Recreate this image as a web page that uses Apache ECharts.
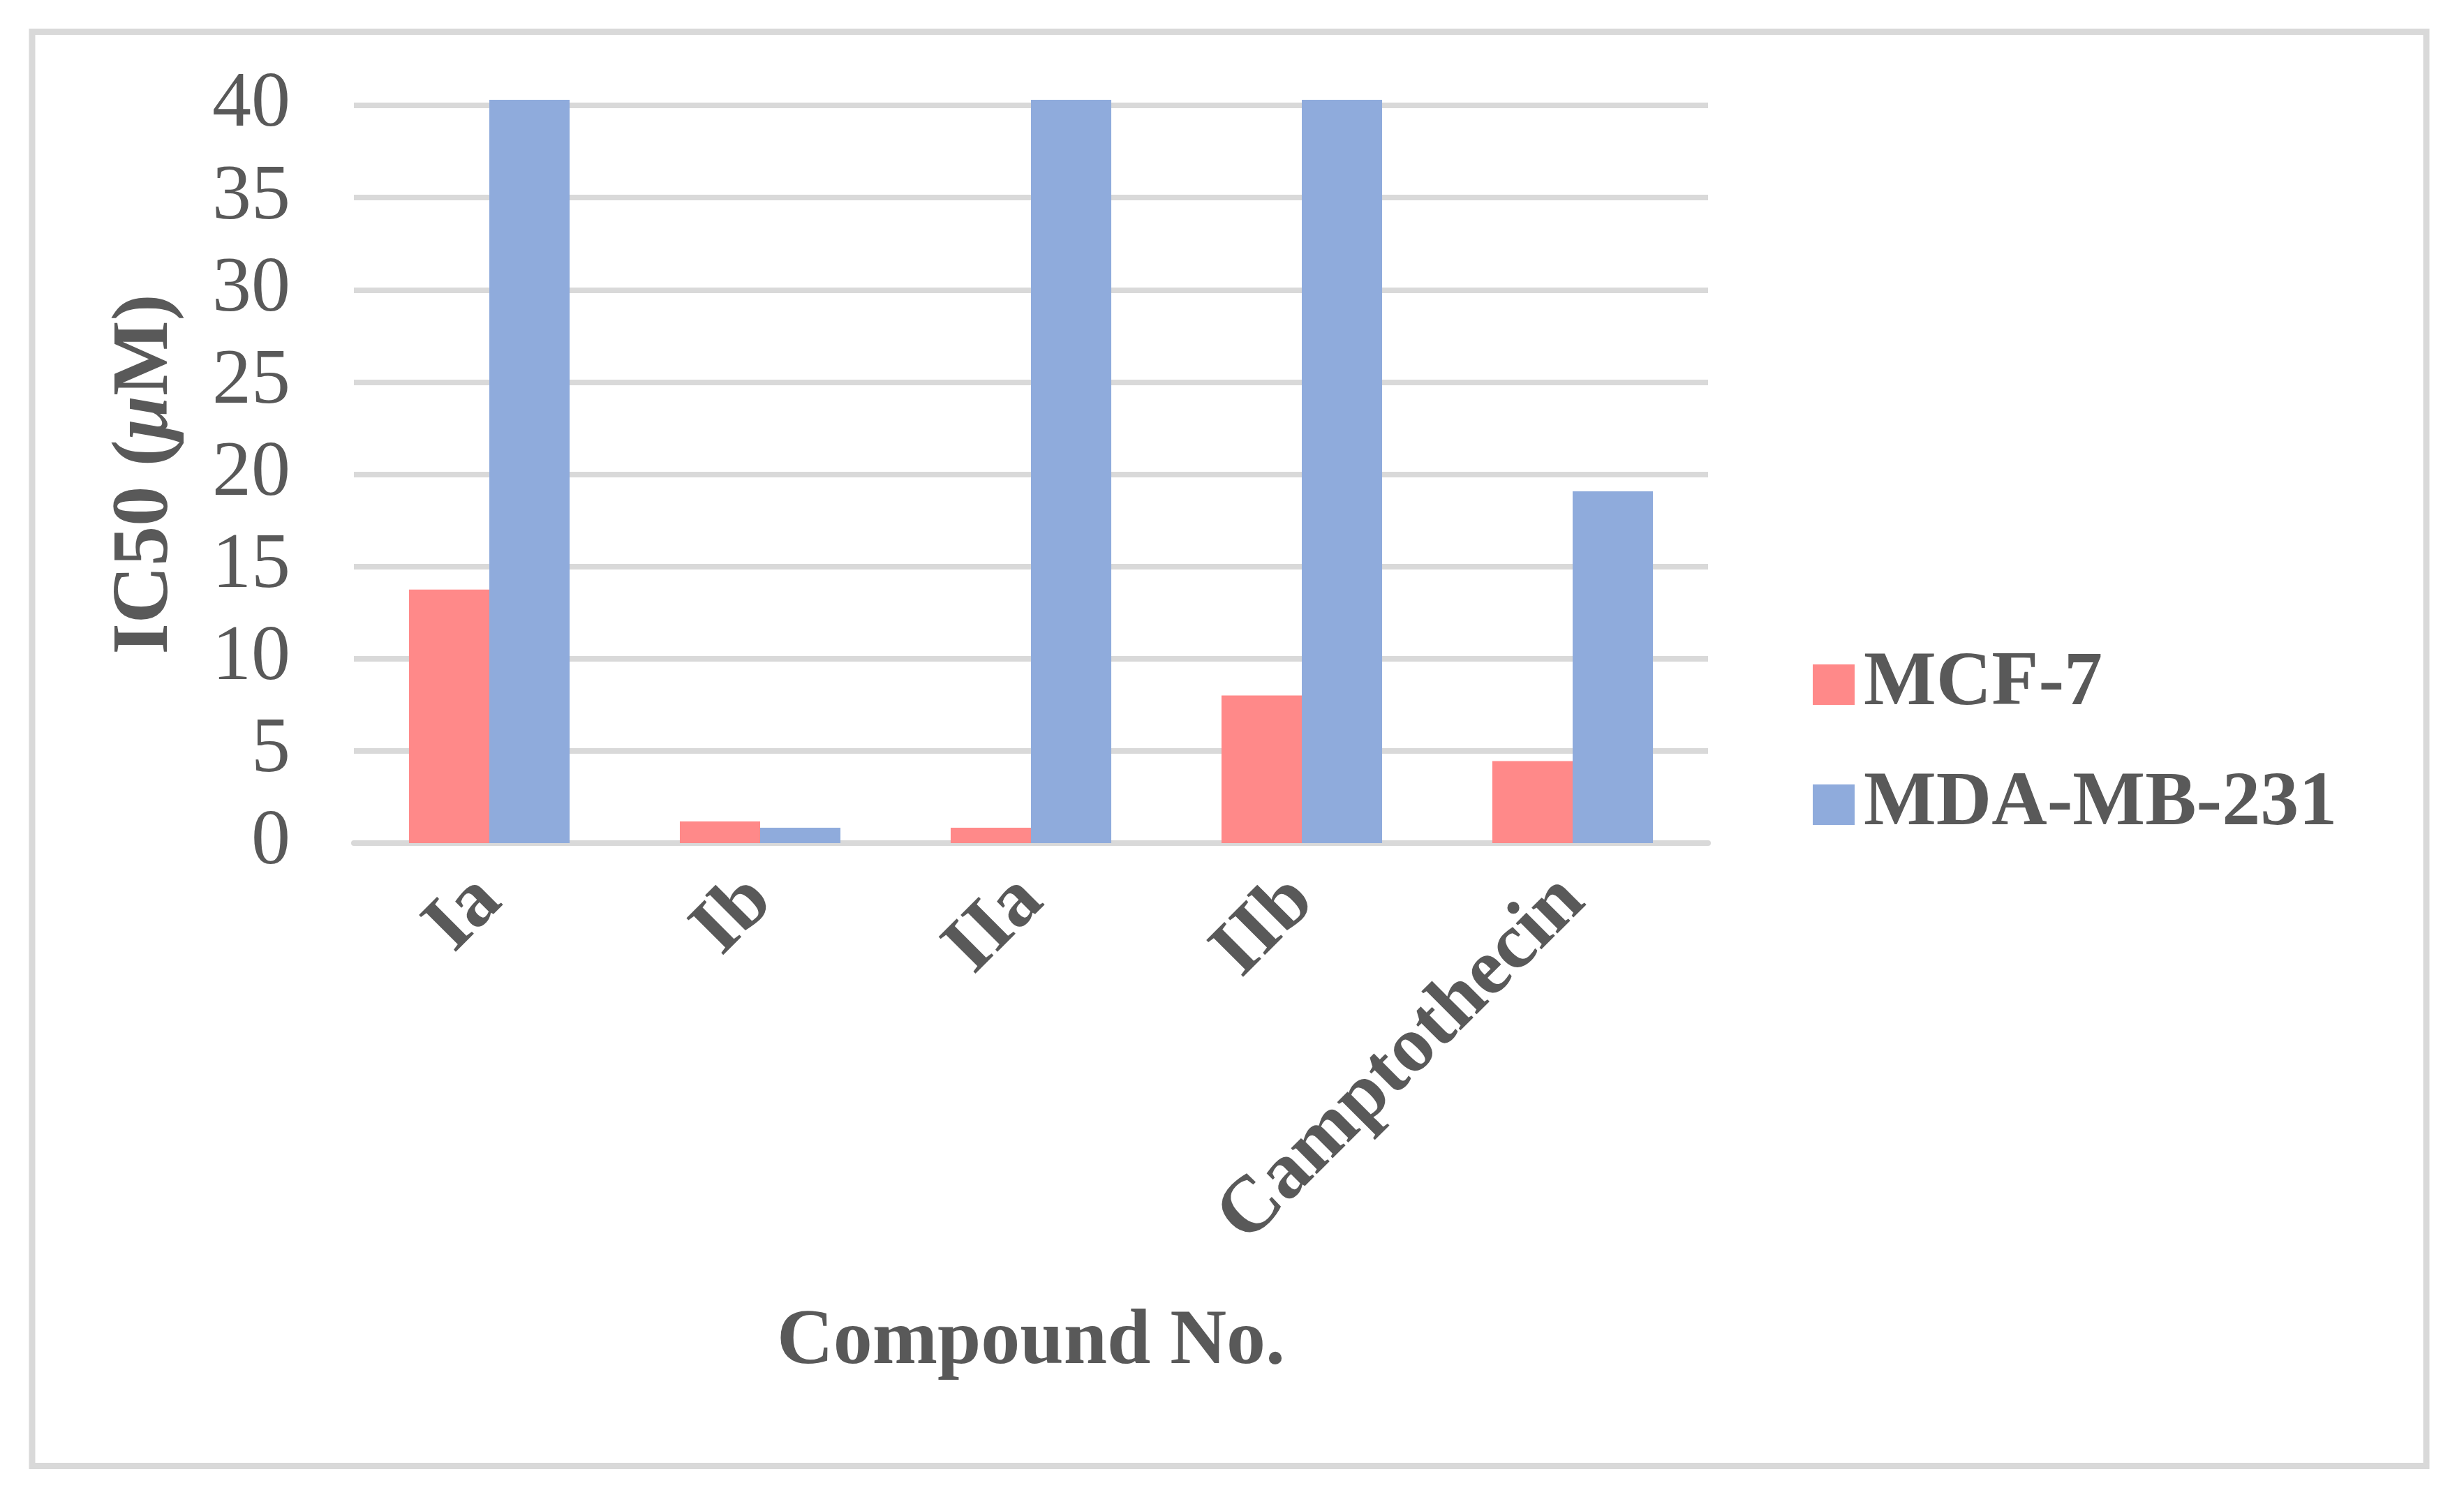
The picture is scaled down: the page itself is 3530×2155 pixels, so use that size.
<!DOCTYPE html>
<html>
<head>
<meta charset="utf-8">
<script src="https://cdn.jsdelivr.net/npm/echarts@6/dist/echarts.min.js"></script>
<style>
html,body{margin:0;padding:0;background:#fff;}
#chart{width:3530px;height:2155px;}
</style>
</head>
<body>
<div id="chart"></div>
<script>
const categories = ['Ia', 'Ib', 'IIa', 'IIb', 'Camptothecin'];
const mcf7 = [13.75, 1.17, 0.83, 8.0, 4.45];
const mdaMB231 = [40.3, 0.83, 40.3, 40.3, 19.07];
const yTicks = [0, 5, 10, 15, 20, 25, 30, 35, 40];
const seriesNames = ['MCF-7', 'MDA-MB-231'];

const FONT = "'Liberation Serif', 'Times New Roman', serif";
const TXT = '#595959';
const GRID = '#d9d9d9';

const chart = echarts.init(document.getElementById('chart'), null, {renderer: 'canvas'});
chart.setOption({
  backgroundColor: '#ffffff',
  animation: false,
  graphic: [{
    type: 'rect',
    shape: {x: 46, y: 45.5, width: 3430, height: 2055},
    style: {fill: 'none', stroke: GRID, lineWidth: 9},
    silent: true
  }],
  legend: {
    orient: 'vertical',
    left: 2592,
    top: 921,
    itemWidth: 60,
    itemHeight: 58,
    itemGap: 62,
    icon: 'rect',
    data: seriesNames,
    textStyle: {fontFamily: FONT, fontSize: 110, fontWeight: 'bold', color: TXT, lineHeight: 110, padding: [0, 0, 0, 8]}
  },
  grid: {left: 507, right: 1083, top: 151, bottom: 947, containLabel: false},
  xAxis: {
    type: 'category',
    data: categories,
    name: 'Compound No.',
    nameLocation: 'middle',
    nameGap: 660,
    nameTextStyle: {fontFamily: FONT, fontSize: 112, fontWeight: 'bold', color: TXT},
    axisLine: {show: true, lineStyle: {color: GRID, width: 8}},
    axisTick: {show: false},
    axisLabel: {rotate: 45, margin: 66, fontFamily: FONT, fontSize: 114, fontWeight: 'bold', color: TXT, interval: 0}
  },
  yAxis: {
    type: 'value',
    min: 0,
    max: 40,
    interval: 5,
    name: 'IC50 ({i|μ}M)',
    nameLocation: 'middle',
    nameGap: 240,
    nameRotate: 90,
    nameTextStyle: {fontFamily: FONT, fontSize: 114, fontWeight: 'bold', color: TXT,
      rich: {i: {fontFamily: FONT, fontSize: 114, fontWeight: 'bold', fontStyle: 'italic', color: TXT}}},
    axisLine: {show: false},
    axisTick: {show: false},
    splitLine: {show: true, lineStyle: {color: GRID, width: 8}},
    axisLabel: {margin: 91, fontFamily: FONT, fontSize: 112, color: TXT,
      formatter: function (v) { return yTicks.indexOf(v) >= 0 ? String(v) : ''; }}
  },
  series: [
    {name: seriesNames[0], type: 'bar', data: mcf7, itemStyle: {color: '#FF8989'}, barGap: '0%', barCategoryGap: '40.7%', clip: false, z: 1},
    {name: seriesNames[1], type: 'bar', data: mdaMB231, itemStyle: {color: '#8FABDC'}, barGap: '0%', barCategoryGap: '40.7%', clip: false, z: 1}
  ]
});
</script>
</body>
</html>
